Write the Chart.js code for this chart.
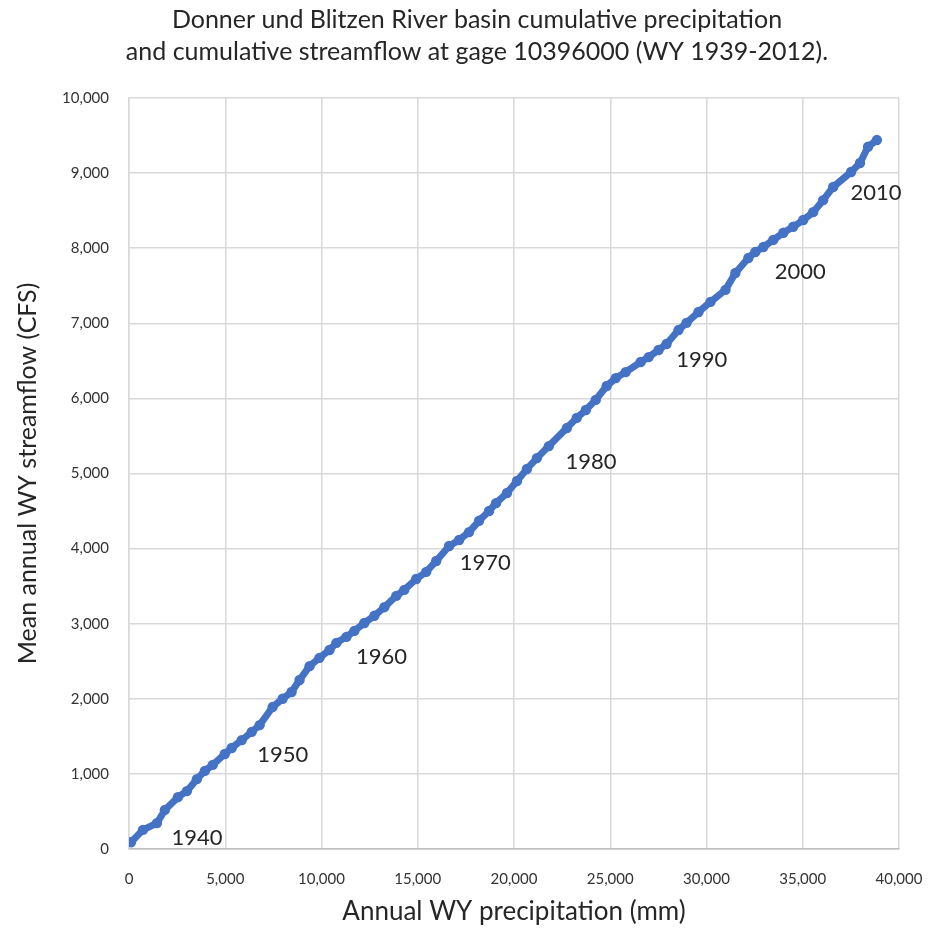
<!DOCTYPE html>
<html>
<head>
<meta charset="utf-8">
<script src="https://cdn.jsdelivr.net/npm/chart.js@4/dist/chart.umd.min.js"></script>
<style>
  html, body { margin: 0; padding: 0; background: #ffffff; }
  #wrap { width: 933px; height: 930px; position: relative; }
</style>
</head>
<body>
<div id="wrap"><canvas id="chart" width="933" height="930"></canvas></div>
<script>
// Water years covered by the record
const firstYear = 1939;
const lastYear = 2012;

// Cumulative basin precipitation (mm), one value per water year 1939-2012
const cumPrecip = [
  100, 725, 1450, 1865, 2540, 3005, 3525, 3940, 4350, 4975,
  5335, 5855, 6375, 6785, 7460, 7980, 8445, 8860, 9380, 9895,
  10415, 10775, 11295, 11710, 12225, 12745, 13265, 13885, 14300, 14920,
  15440, 15960, 16630, 17150, 17665, 18185, 18705, 19065, 19635, 20155,
  20670, 21190, 21810, 22745, 23260, 23730, 24245, 24815, 25285, 25800,
  26580, 26995, 27510, 27925, 28545, 28960, 29585, 30205, 30985, 31500,
  32175, 32535, 32950, 33470, 33990, 34505, 35025, 35540, 36060, 36580,
  37510, 37975, 38390, 38850
];

// Cumulative mean annual streamflow (CFS) at gage 10396000, same years
const cumFlow = [
  90, 255, 345, 520, 690, 770, 930, 1040, 1120, 1265,
  1345, 1450, 1560, 1650, 1890, 2000, 2090, 2250, 2435, 2545,
  2650, 2745, 2825, 2905, 3010, 3105, 3220, 3370, 3450, 3595,
  3690, 3835, 4035, 4115, 4220, 4370, 4500, 4605, 4740, 4900,
  5060, 5205, 5365, 5605, 5740, 5845, 5980, 6165, 6270, 6350,
  6485, 6550, 6645, 6725, 6910, 7005, 7150, 7285, 7445, 7670,
  7870, 7950, 8015, 8110, 8205, 8285, 8375, 8480, 8640, 8815,
  9015, 9135, 9350, 9440
];

// Decade years that carry a text label next to their point
const labelledYears = [1940, 1950, 1960, 1970, 1980, 1990, 2000, 2010];

// Axis ticks
const xTicks = [0, 5000, 10000, 15000, 20000, 25000, 30000, 35000, 40000];
const yTicks = [0, 1000, 2000, 3000, 4000, 5000, 6000, 7000, 8000, 9000, 10000];

const titleLines = [
  'Donner und Blitzen River basin cumulative precipitation',
  'and cumulative streamflow at gage 10396000 (WY 1939-2012).'
];
const xTitle = 'Annual WY precipitation (mm)';
const yTitle = 'Mean annual WY streamflow (CFS)';

const FONT = 'Lato, "Open Sans", "Liberation Sans", sans-serif';
const BLUE = '#4472C4';

// Offsets (px) of each decade label from its point
const labelOffsets = {
  1940: [54, 8], 1950: [41, 15], 1960: [45, 14], 1970: [49, 2],
  1980: [54, 4], 1990: [53, 3], 2000: [45, 20], 2010: [16, 30]
};

const points = cumPrecip.map((x, i) => ({ x: x, y: cumFlow[i], year: firstYear + i }));

const fmt = v => Number(v).toLocaleString('en-US');

// Two-line heading above the plot
const headingPlugin = {
  id: 'heading',
  afterDraw(chart) {
    const ctx = chart.ctx;
    ctx.save();
    ctx.fillStyle = '#262626';
    ctx.font = '25px ' + FONT;
    ctx.textAlign = 'center';
    ctx.textBaseline = 'middle';
    titleLines.forEach((t, i) => ctx.fillText(t, 477, 20 + i * 32));
    ctx.restore();
  }
};

// Year labels beside the decade points
const yearLabelPlugin = {
  id: 'yearLabels',
  afterDatasetsDraw(chart) {
    const meta = chart.getDatasetMeta(0);
    const ctx = chart.ctx;
    ctx.save();
    ctx.fillStyle = '#262626';
    ctx.font = '22px ' + FONT;
    ctx.textAlign = 'center';
    ctx.textBaseline = 'middle';
    labelledYears.forEach(yr => {
      const idx = yr - firstYear;
      const el = meta.data[idx];
      if (!el) return;
      const off = labelOffsets[yr] || [40, 10];
      ctx.fillText(String(yr), el.x + off[0], el.y + off[1]);
    });
    ctx.restore();
  }
};

new Chart(document.getElementById('chart'), {
  type: 'scatter',
  data: {
    datasets: [{
      label: 'Cumulative',
      data: points,
      showLine: true,
      borderColor: BLUE,
      backgroundColor: BLUE,
      borderWidth: 7,
      borderJoinStyle: 'round',
      borderCapStyle: 'round',
      pointRadius: 5.2,
      pointHoverRadius: 5.2,
      pointBorderWidth: 0,
      tension: 0
    }]
  },
  options: {
    responsive: false,
    animation: false,
    layout: { padding: { top: 98, right: 34, bottom: 0, left: 0 } },
    plugins: {
      legend: { display: false },
      tooltip: { enabled: false },
      title: { display: false }
    },
    scales: {
      x: {
        type: 'linear',
        min: 0,
        max: 40000,
        afterBuildTicks: s => { s.ticks = xTicks.map(v => ({ value: v })); },
        afterFit: s => { s.height = 81; s.paddingLeft = 0; s.paddingRight = 0; },
        grid: { color: '#D9D9D9', lineWidth: 1.5, drawTicks: false },
        border: { color: '#BFBFBF', width: 1.5 },
        ticks: {
          padding: 21,
          color: '#333333',
          font: { family: FONT, size: 15 },
          callback: v => fmt(v)
        },
        title: {
          display: true,
          text: xTitle,
          color: '#262626',
          font: { family: FONT, size: 26 },
          padding: { top: 4, bottom: 3 }
        }
      },
      y: {
        type: 'linear',
        min: 0,
        max: 10000,
        afterBuildTicks: s => { s.ticks = yTicks.map(v => ({ value: v })); },
        afterFit: s => { s.width = 129; s.paddingTop = 0; s.paddingBottom = 0; },
        grid: { color: '#D9D9D9', lineWidth: 1.5, drawTicks: false },
        border: { color: '#D9D9D9', width: 1.5 },
        ticks: {
          padding: 20,
          color: '#333333',
          font: { family: FONT, size: 15 },
          callback: v => fmt(v)
        },
        title: {
          display: true,
          text: yTitle,
          color: '#262626',
          font: { family: FONT, size: 25 },
          padding: { top: 13, bottom: 4 }
        }
      }
    }
  },
  plugins: [headingPlugin, yearLabelPlugin]
});
</script>
</body>
</html>
